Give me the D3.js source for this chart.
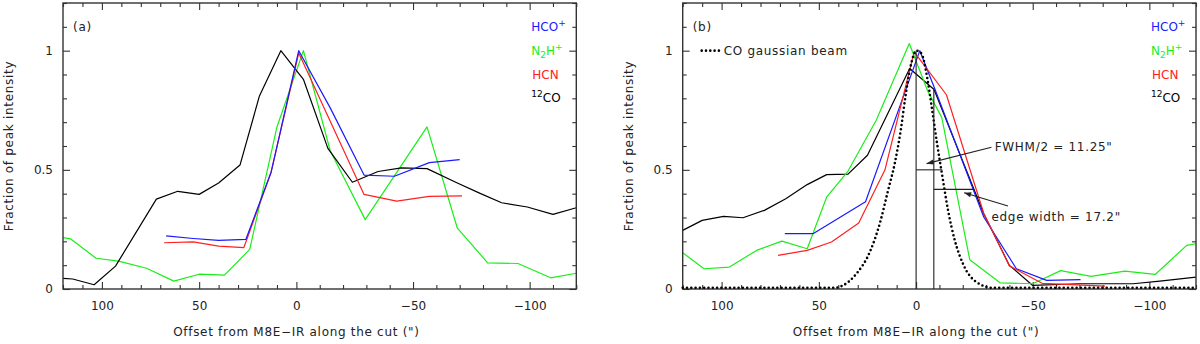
<!DOCTYPE html>
<html>
<head>
<meta charset='utf-8'>
<style>
body { margin:0; background:#fff; }
svg { font-family: "DejaVu Sans", sans-serif; font-size:12px; background:#fff; }
.frame { fill:none; stroke:#333; stroke-width:1.4; }
.axis path { display:none; }
.axis line { stroke:#333; stroke-width:1.1; }
.axis text { font-family:"DejaVu Sans", sans-serif; font-size:12px; fill:#222; }
.series { fill:none; stroke-width:1.2; stroke-linejoin:round; }
.lbl { fill:#222; letter-spacing:0.7px; }
</style>
</head>
<body>
<svg width="1200" height="344"></svg>
<script src="https://cdn.jsdelivr.net/npm/d3@7"></script>
<script>

// ---- data (offset in arcsec, fraction of peak) ----
var xMajor = [100, 50, 0, -50, -100],
    yMajor = [0, 0.5, 1];

var a_hco = [[67,0.223],[53,0.212],[40,0.204],[26,0.208],[13,0.49],[-1,1.0],[-14.5,0.76],[-29,0.478],[-42,0.473],[-57,0.53],[-70,0.543]];
var a_n2h = [[120,0.216],[116,0.21],[103,0.129],[91.5,0.117],[77,0.087],[63,0.033],[50,0.062],[37,0.058],[24,0.166],[10,0.68],[-3,1.0],[-14.5,0.58],[-29.5,0.291],[-56,0.68],[-69,0.255],[-82,0.11],[-95,0.107],[-109,0.047],[-120,0.066]];
var a_hcn = [[68,0.194],[53,0.198],[40,0.18],[27,0.174],[13,0.49],[-1,0.99],[-29,0.397],[-43,0.369],[-57,0.389],[-71,0.391]];
var a_co  = [[120,0.045],[115,0.042],[104,0.018],[93,0.096],[72,0.377],[61,0.41],[50,0.397],[40,0.445],[29,0.52],[19,0.81],[8,1.0],[-3,0.88],[-13.5,0.59],[-24,0.448],[-35,0.493],[-45,0.508],[-56,0.505],[-69,0.445],[-79,0.4],[-88,0.362],[-99,0.344],[-110,0.313],[-120,0.341]];

var b_hco = [[67.5,0.232],[53,0.232],[26,0.366],[-1.6,1.0],[-8,0.84],[-29,0.302],[-43,0.085],[-56,0.036],[-70.5,0.039]];
var b_n2h = [[120,0.152],[109,0.085],[96,0.092],[82,0.162],[69,0.201],[56,0.169],[46,0.385],[35,0.495],[20.5,0.708],[3.5,1.03],[-5,0.83],[-11,0.72],[-23,0.123],[-36,0.026],[-50,0.022],[-62,0.077],[-75,0.053],[-89.5,0.075],[-102.5,0.061],[-116,0.183],[-120,0.19]];
var b_hcn = [[71,0.141],[56,0.162],[43.5,0.197],[29.5,0.277],[16,0.5],[1,0.995],[-13,0.815],[-29,0.318],[-40,0.097],[-54,0.024],[-81,0.012]];
var b_co  = [[120,0.246],[110,0.288],[99,0.305],[89,0.299],[78,0.33],[67,0.379],[56,0.438],[46,0.48],[35,0.482],[25,0.561],[3.3,0.925],[-7.7,0.837],[-29,0.316],[-40,0.099],[-50,0.015],[-70,0.022],[-93,0.022],[-104.5,0.033],[-120,0.05]];
var b_beam = [[120,0.005],[42,0.005],[37.6,0.015],[30.7,0.064],[23.8,0.155],[18.7,0.274],[14.4,0.414],[11,0.526],[7.9,0.666],[5.5,0.806],[2.9,0.932],[-0.2,1.0],[-2.3,0.988],[-4.7,0.89],[-6.9,0.75],[-9,0.61],[-11.3,0.47],[-13.7,0.33],[-16.6,0.204],[-20.4,0.099],[-25.9,0.029],[-33,0.005],[-120,0.005]];

// annotation values for panel b
var fwhmHalf = 11.25, edgeWidth = 17.2, edgeStart = -7.6, edgeLevel = 0.418, coAtEdge = 0.837;
var arrowFwhm = [[-32.3,0.595],[-4.5,0.526]],
    arrowEdge = [[-39.4,0.348],[-20.6,0.404]];

var colors = {hco:'#1a1aff', n2h:'#19ee19', hcn:'#ff2020', co:'#000'};

// ---- layout ----
var svg = d3.select('svg'),
    W = 513.3, H = 286, topM = 3,
    x = d3.scaleLinear().domain([120, 0, -120]).range([0, 233.4, W]),
    y = d3.scaleLinear().domain([0, 1.2]).range([H, 0]),
    line = d3.line().x(d => x(d[0])).y(d => y(d[1]));

var xMinor = d3.range(-12, 13).map(i => i*10).filter(v => !xMajor.includes(v)),
    yMinor = d3.range(0, 13).map(i => i/10).filter(v => !yMajor.includes(v));

function drawPanel(left, tag, series) {
  var g = svg.append('g').attr('transform', `translate(${left},${topM})`);
  g.append('clipPath').attr('id', 'clip' + tag)
    .append('rect').attr('width', W).attr('height', H);

  // ticks (inward, all four sides)
  g.append('g').attr('class', 'axis').attr('transform', `translate(0,${H})`)
    .call(d3.axisBottom(x).tickValues(xMajor).tickSize(-7).tickPadding(12).tickFormat(d3.format('d')));
  g.append('g').attr('class', 'axis').attr('transform', `translate(0,${H})`)
    .call(d3.axisBottom(x).tickValues(xMinor).tickSize(-4).tickFormat(''));
  g.append('g').attr('class', 'axis')
    .call(d3.axisTop(x).tickValues(xMajor).tickSize(-7).tickFormat(''));
  g.append('g').attr('class', 'axis')
    .call(d3.axisTop(x).tickValues(xMinor).tickSize(-4).tickFormat(''));
  g.append('g').attr('class', 'axis')
    .call(d3.axisLeft(y).tickValues(yMajor).tickSize(-7).tickPadding(10).tickFormat(d => String(d)));
  g.append('g').attr('class', 'axis')
    .call(d3.axisLeft(y).tickValues(yMinor).tickSize(-4).tickFormat(''));
  g.append('g').attr('class', 'axis').attr('transform', `translate(${W},0)`)
    .call(d3.axisRight(y).tickValues(yMajor).tickSize(-7).tickFormat(''));
  g.append('g').attr('class', 'axis').attr('transform', `translate(${W},0)`)
    .call(d3.axisRight(y).tickValues(yMinor).tickSize(-4).tickFormat(''));

  var plot = g.append('g').attr('clip-path', `url(#clip${tag})`);
  series.forEach(s => {
    plot.append('path').attr('class', 'series')
      .attr('d', line(s.data))
      .attr('stroke', colors[s.key]);
  });

  g.append('rect').attr('class', 'frame').attr('width', W).attr('height', H);

  // labels
  g.append('text').attr('class', 'lbl').attr('x', 10).attr('y', 28).text(`(${tag})`);
  g.append('text').attr('class', 'lbl')
    .attr('transform', `translate(-50,${H/2}) rotate(-90)`)
    .attr('text-anchor', 'middle').text('Fraction of peak intensity');
  g.append('text').attr('class', 'lbl')
    .attr('x', x(0)).attr('y', 333).attr('text-anchor', 'middle')
    .text('Offset from M8E\u2212IR along the cut (")');

  // species legend
  var lg = g.append('g').attr('transform', `translate(${W-45},0)`);
  var t;
  t = lg.append('text').attr('y', 28).attr('fill', colors.hco).text('HCO');
  t.append('tspan').attr('dy', -5).attr('font-size', 9).text('+');
  t = lg.append('text').attr('y', 52).attr('fill', colors.n2h).text('N');
  t.append('tspan').attr('dy', 3).attr('font-size', 9).text('2');
  t.append('tspan').attr('dy', -3).text('H');
  t.append('tspan').attr('dy', -5).attr('font-size', 9).text('+');
  lg.append('text').attr('x', 1).attr('y', 75.7).attr('fill', colors.hcn).text('HCN');
  t = lg.append('text').attr('y', 99.3).attr('fill', colors.co);
  t.append('tspan').attr('dy', -5).attr('font-size', 9).text('12');
  t.append('tspan').attr('dy', 5).text('CO');
  return g;
}

var seriesA = [
  {key:'n2h', data:a_n2h}, {key:'co', data:a_co},
  {key:'hcn', data:a_hcn}, {key:'hco', data:a_hco}
];
var seriesB = [
  {key:'co', data:b_co}, {key:'n2h', data:b_n2h},
  {key:'hco', data:b_hco}, {key:'hcn', data:b_hcn}
];

drawPanel(63, 'a', seriesA);
var gb = drawPanel(682.7, 'b', seriesB);

// gaussian beam (dotted)
var dotted = {fill:'none', stroke:'#000', 'stroke-width':2.6, 'stroke-dasharray':'0 4.3', 'stroke-linecap':'round'};
var beam = gb.append('path').attr('d', d3.line().x(d => x(d[0])).y(d => y(d[1])).curve(d3.curveMonotoneX)(b_beam));
var sample = gb.append('line').attr('x1', 19).attr('x2', 37).attr('y1', y(1)).attr('y2', y(1));
Object.entries(dotted).forEach(([k, v]) => { beam.attr(k, v); sample.attr(k, v); });
gb.append('text').attr('class', 'lbl').attr('x', 41).attr('y', y(1)).attr('dy', '0.36em').text('CO gaussian beam');

// FWHM / edge-width construction lines
var ann = gb.append('g').attr('stroke', '#222').attr('stroke-width', 1.1).attr('fill', 'none');
ann.append('line').attr('x1', x(0)).attr('x2', x(0)).attr('y1', y(0)).attr('y2', y(1));
ann.append('line').attr('x1', x(edgeStart)).attr('x2', x(edgeStart)).attr('y1', y(0)).attr('y2', y(coAtEdge));
ann.append('line').attr('x1', x(0)).attr('x2', x(-fwhmHalf)).attr('y1', y(0.5)).attr('y2', y(0.5));
ann.append('line').attr('x1', x(edgeStart)).attr('x2', x(edgeStart - edgeWidth)).attr('y1', y(edgeLevel)).attr('y2', y(edgeLevel));

function arrow(pts) {
  var p0 = [x(pts[0][0]), y(pts[0][1])], p1 = [x(pts[1][0]), y(pts[1][1])];
  ann.append('line').attr('x1', p0[0]).attr('y1', p0[1]).attr('x2', p1[0]).attr('y2', p1[1]);
  var a = Math.atan2(p1[1]-p0[1], p1[0]-p0[0]), L = 7, w = 2.6;
  var bx = p1[0] - L*Math.cos(a), by = p1[1] - L*Math.sin(a);
  gb.append('path').attr('fill', '#222')
    .attr('d', `M${p1[0]},${p1[1]}L${bx - w*Math.sin(a)},${by + w*Math.cos(a)}L${bx + w*Math.sin(a)},${by - w*Math.cos(a)}Z`);
}
arrow(arrowFwhm);
arrow(arrowEdge);

gb.append('text').attr('class', 'lbl').attr('x', x(-33.7)).attr('y', y(0.599)).attr('dy', '0.36em')
  .text(`FWHM/2 = ${fwhmHalf}"`);
gb.append('text').attr('class', 'lbl').attr('x', x(-32.3)).attr('y', y(0.302)).attr('dy', '0.36em')
  .text(`edge width = ${edgeWidth}"`);

</script>
</body>
</html>
